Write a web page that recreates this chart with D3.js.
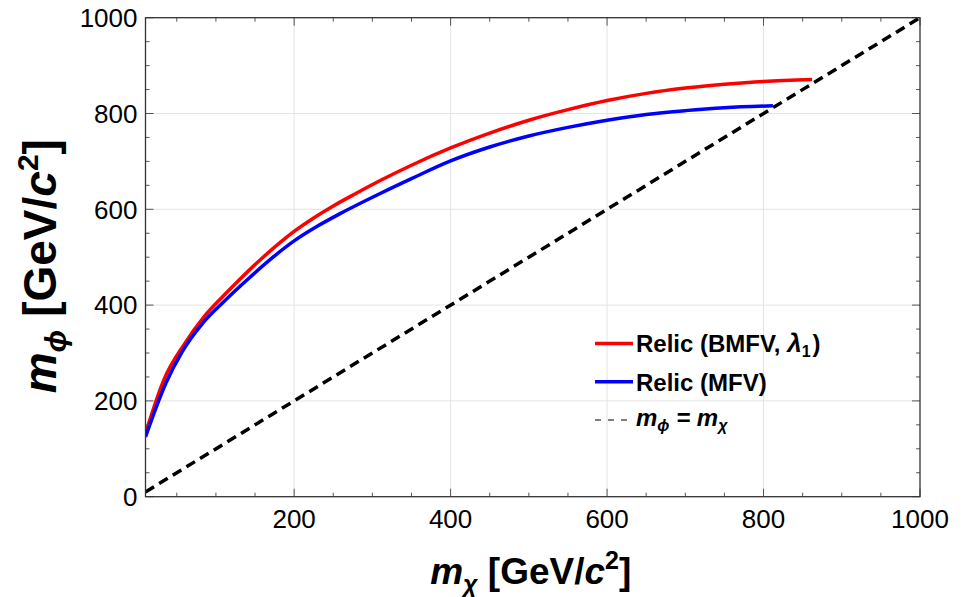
<!DOCTYPE html>
<html><head><meta charset="utf-8">
<script src="https://cdn.jsdelivr.net/npm/d3@7"></script>
<style>body{margin:0;background:#fff}svg{display:block}text{font-family:"Liberation Sans",Arial,sans-serif}</style>
</head><body>
<script>
// data
const relicBMFV_x = [10,34,59,85,110,130,155,183,200,225,250,280,310,350,400,450,500,550,600,650,700,750,800,862];
const relicBMFV_y = [132,246,317,376,420,453,492,532,554,582,607,634,660,692,728,759,786,808,827,842,853,861,867,871];
const relicMFV_x = [10,36,57,83,110,140,170,200,230,260,310,350,400,450,500,550,600,650,700,750,812];
const relicMFV_y = [125,237,303,362,407,453,496,534,565,592,633,664,701,730,753,771,786,798,806,812,816];
const diag_x = [10,1000];
const xTickLabels = [200,400,600,800,1000];
const yTickLabels = [0,200,400,600,800,1000];

const W=972,H=597;
const svg=d3.select("body").append("svg").attr("width",W).attr("height",H);
const L=145.5,R=920,T=17.7,B=496.7;
const x=d3.scaleLinear().domain([10,1000]).range([L,R]);
const y=d3.scaleLinear().domain([0,1000]).range([B,T]);

// grid
const g=svg.append("g");
g.selectAll(".gx").data([200,400,600,800]).join("line")
 .attr("x1",d=>x(d)).attr("x2",d=>x(d)).attr("y1",T).attr("y2",B)
 .attr("stroke","#e4e4e4").attr("stroke-width",1);
g.selectAll(".gy").data([200,400,600,800]).join("line")
 .attr("y1",d=>y(d)).attr("y2",d=>y(d)).attr("x1",L).attr("x2",R)
 .attr("stroke","#e4e4e4").attr("stroke-width",1);

// clip
svg.append("clipPath").attr("id","clip").append("rect").attr("x",L).attr("y",T).attr("width",R-L).attr("height",B-T);
const plot=svg.append("g").attr("clip-path","url(#clip)");
const line=d3.line().x(d=>x(d[0])).y(d=>y(d[1])).curve(d3.curveMonotoneX);

plot.append("path").datum(diag_x.map(v=>[v,v])).attr("d",d3.line().x(d=>x(d[0])).y(d=>y(d[1])))
 .attr("fill","none").attr("stroke","#000").attr("stroke-width",3.5).attr("stroke-dasharray","10,6");
plot.append("path").datum(relicBMFV_x.map((v,i)=>[v,relicBMFV_y[i]])).attr("d",line)
 .attr("fill","none").attr("stroke","#ff0000").attr("stroke-width",3.5);
plot.append("path").datum(relicMFV_x.map((v,i)=>[v,relicMFV_y[i]])).attr("d",line)
 .attr("fill","none").attr("stroke","#0000ff").attr("stroke-width",3.5);

// axes frame & ticks
const ax=svg.append("g");
const xMinor=d3.range(50,1001,50).filter(v=>v%200!==0);
const yMinor=d3.range(50,1000,50).filter(v=>v%200!==0);
const tc="#555";
function tickX(vals,len,yy,dir){ax.selectAll(null).data(vals).join("line").attr("x1",d=>x(d)).attr("x2",d=>x(d)).attr("y1",yy).attr("y2",yy+dir*len).attr("stroke",tc).attr("stroke-width",1);}
function tickY(vals,len,xx,dir){ax.selectAll(null).data(vals).join("line").attr("y1",d=>y(d)).attr("y2",d=>y(d)).attr("x1",xx).attr("x2",xx+dir*len).attr("stroke",tc).attr("stroke-width",1);}
tickX(xTickLabels,8,B,-1);tickX(xMinor,4,B,-1);tickX(xTickLabels,8,T,1);tickX(xMinor,4,T,1);
tickY(yTickLabels,8,L,1);tickY(yMinor,4,L,1);tickY(yTickLabels,8,R,-1);tickY(yMinor,4,R,-1);
ax.append("rect").attr("x",L).attr("y",T).attr("width",R-L).attr("height",B-T).attr("fill","none").attr("stroke","#333").attr("stroke-width",1.3);

ax.selectAll(".xl").data(xTickLabels).join("text").attr("x",d=>x(d)).attr("y",528)
 .attr("text-anchor","middle").attr("font-size",26).attr("fill","#000").text(d=>d);
ax.selectAll(".yl").data(yTickLabels).join("text").attr("x",137.5).attr("y",d=>y(d)).attr("dy","0.36em")
 .attr("text-anchor","end").attr("font-size",26).attr("fill","#000").text(d=>d);

// axis titles
const xt=svg.append("text").attr("x",(L+R)/2-2).attr("y",584).attr("text-anchor","middle").attr("font-size",37).attr("font-weight","bold");
xt.append("tspan").attr("font-style","italic").text("m");
xt.append("tspan").attr("font-style","italic").attr("font-size",25).attr("dy",9).text("χ");
xt.append("tspan").attr("dy",-9).text(" [GeV/");
xt.append("tspan").attr("font-style","italic").text("c");
xt.append("tspan").attr("font-size",25).attr("dy",-15).text("2");
xt.append("tspan").attr("dy",15).text("]");

const yt=svg.append("text").attr("transform",`translate(56,${(T+B)/2+9}) rotate(-90)`).attr("text-anchor","middle").attr("font-size",46).attr("font-weight","bold");
yt.append("tspan").attr("font-style","italic").text("m");
yt.append("tspan").attr("font-style","italic").attr("font-size",30).attr("dy",10).text("ϕ");
yt.append("tspan").attr("dy",-10).text(" [GeV/");
yt.append("tspan").attr("font-style","italic").text("c");
yt.append("tspan").attr("font-size",30).attr("dy",-18).text("2");
yt.append("tspan").attr("dy",18).text("]");

// legend
const lg=svg.append("g");
lg.append("line").attr("x1",595).attr("x2",633).attr("y1",343.5).attr("y2",343.5).attr("stroke","#ff0000").attr("stroke-width",3.5);
lg.append("line").attr("x1",595).attr("x2",633).attr("y1",381.7).attr("y2",381.7).attr("stroke","#0000ff").attr("stroke-width",3.5);
lg.append("line").attr("x1",595).attr("x2",633).attr("y1",420).attr("y2",420).attr("stroke","#000").attr("stroke-width",1.2).attr("stroke-dasharray","6,7");
const t1=lg.append("text").attr("x",636).attr("y",352).attr("font-size",24).attr("font-weight","bold");
t1.append("tspan").text("Relic (BMFV, ");
t1.append("tspan").attr("font-style","italic").attr("font-size",26).text("λ");
t1.append("tspan").attr("font-size",16).attr("dy",5).text("1");
t1.append("tspan").attr("dy",-5).attr("dx",2).text(")");
lg.append("text").attr("x",636).attr("y",390.5).attr("font-size",24).attr("font-weight","bold").text("Relic (MFV)");
const t3=lg.append("text").attr("x",636).attr("y",426).attr("font-size",24).attr("font-weight","bold").attr("font-style","italic");
t3.append("tspan").text("m");
t3.append("tspan").attr("font-size",16).attr("dy",5).text("ϕ");
t3.append("tspan").attr("dy",-5).text(" = m");
t3.append("tspan").attr("font-size",16).attr("dy",5).text("χ");
</script>
</body></html>
